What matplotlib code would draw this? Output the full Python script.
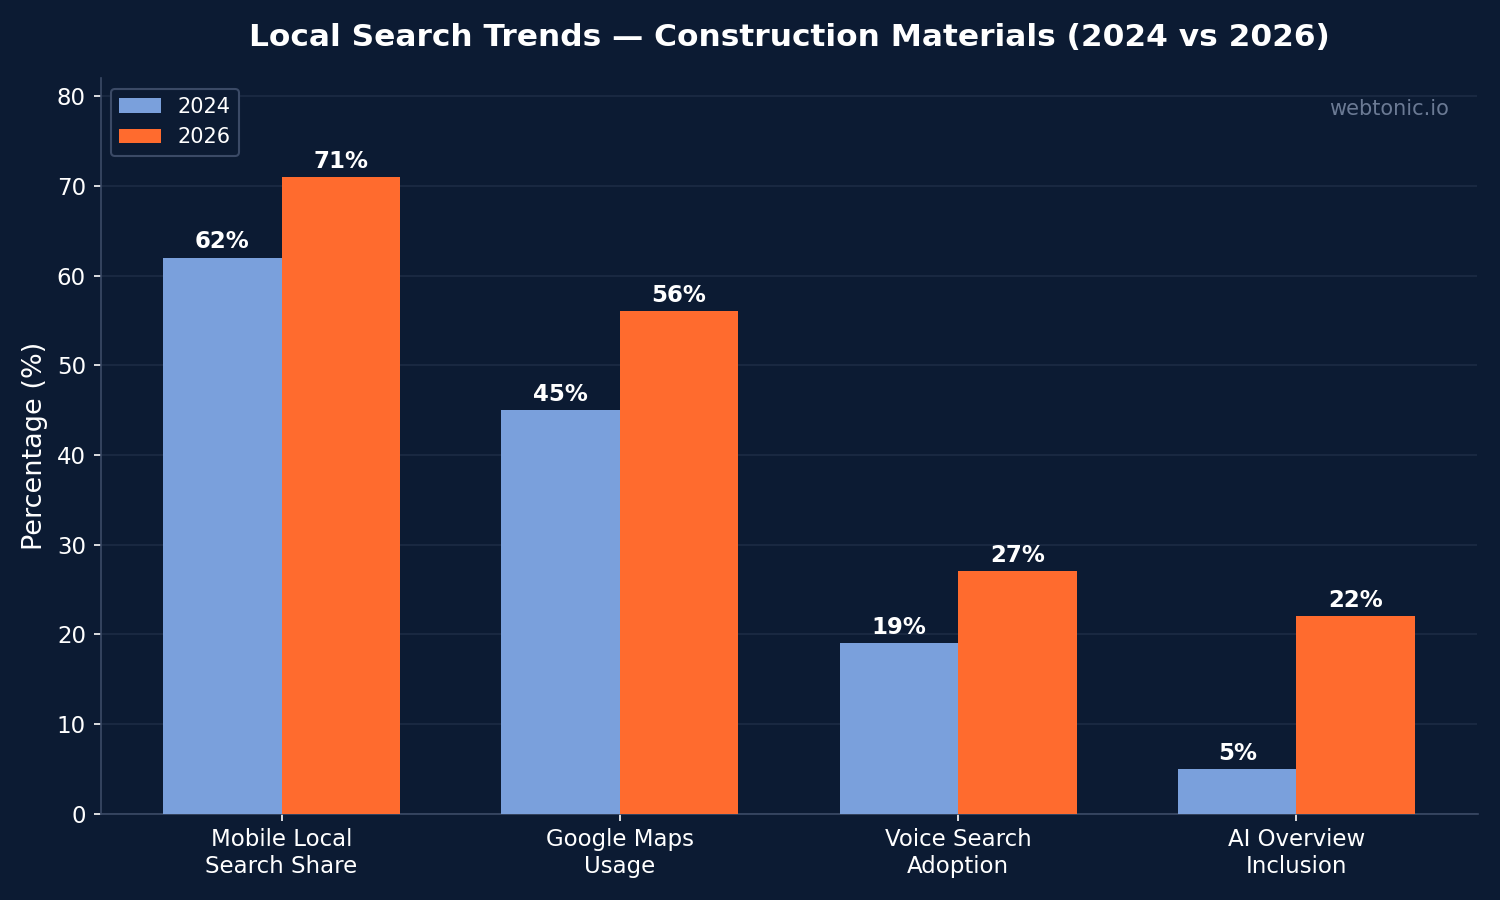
import matplotlib
matplotlib.use("Agg")
import matplotlib.pyplot as plt
import numpy as np

plt.rcParams["font.family"] = ["DejaVu Sans"]

categories = ["Mobile Local\nSearch Share", "Google Maps\nUsage", "Voice Search\nAdoption", "AI Overview\nInclusion"]
values_2024 = [62, 45, 19, 5]
values_2026 = [71, 56, 27, 22]
series_names = ["2024", "2026"]

BG = "#0c1b33"
C24 = "#7aa0dc"
C26 = "#ff6b2e"
TXT = "#ffffff"
SPINE = "#3b4a66"

fig, ax = plt.subplots(figsize=(10, 6), dpi=150)
fig.patch.set_facecolor(BG)
ax.set_facecolor(BG)

x = np.arange(len(categories))
w = 0.35
b1 = ax.bar(x - w/2, values_2024, w, color=C24, label=series_names[0], zorder=3)
b2 = ax.bar(x + w/2, values_2026, w, color=C26, label=series_names[1], zorder=3)

for bars in (b1, b2):
    for r in bars:
        ax.annotate(f"{int(r.get_height())}%", (r.get_x() + r.get_width()/2, r.get_height()),
                    xytext=(0, 2), textcoords="offset points", ha="center", va="bottom",
                    color=TXT, fontsize=11, fontweight="bold")

ax.set_ylim(0, 82)
ax.set_xticks(x)
ax.set_xticklabels(categories, fontsize=11, color=TXT)
ax.tick_params(axis="y", labelsize=11, colors=TXT)
ax.tick_params(axis="x", colors=TXT)
for t in ax.get_xticklabels():
    t.set_color(TXT)
ax.set_ylabel("Percentage (%)", fontsize=13, color=TXT)
ax.set_title("Local Search Trends — Construction Materials (2024 vs 2026)", fontsize=15,
             fontweight="bold", color=TXT, pad=15.5)

ax.grid(axis="y", color="#1c2b45", linewidth=0.8, zorder=0)
ax.set_axisbelow(True)
for s in ("top", "right"):
    ax.spines[s].set_visible(False)
for s in ("left", "bottom"):
    ax.spines[s].set_color(SPINE)

leg = ax.legend(loc="upper left", fontsize=10, facecolor=BG, edgecolor=SPINE, framealpha=1)
for t in leg.get_texts():
    t.set_color(TXT)

ax.text(0.979, 0.972, "webtonic.io", transform=ax.transAxes, ha="right", va="top",
        fontsize=10, color="#6b7a94")

fig.subplots_adjust(left=0.067, right=0.985, top=0.913, bottom=0.096)
fig.savefig("out.png", dpi=150, facecolor=BG)
